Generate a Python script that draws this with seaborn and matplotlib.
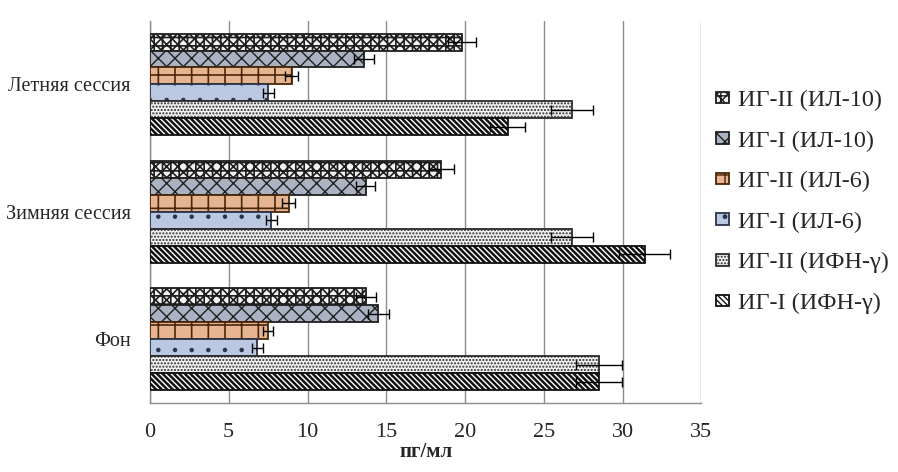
import seaborn as sns
import pandas as pd
import matplotlib.pyplot as plt
from matplotlib.ticker import MultipleLocator, FixedLocator

# categories top to bottom
sessions = ['Летняя сессия', 'Зимняя сессия', 'Фон']
groups = ['ИГ-II (ИЛ-10)', 'ИГ-I (ИЛ-10)', 'ИГ-II (ИЛ-6)',
          'ИГ-I (ИЛ-6)', 'ИГ-II (ИФН-γ)', 'ИГ-I (ИФН-γ)']

# values per group, in the order of sessions
il10_g2 = [19.8, 18.5, 13.7]
il10_g1 = [13.6, 13.7, 14.5]
il6_g2 = [9.0, 8.8, 7.5]
il6_g1 = [7.5, 7.7, 6.8]
ifn_g2 = [26.8, 26.8, 28.5]
ifn_g1 = [22.7, 31.4, 28.5]

il10_g2_err = [0.9, 0.8, 0.65]
il10_g1_err = [0.65, 0.6, 0.65]
il6_g2_err = [0.4, 0.4, 0.3]
il6_g1_err = [0.35, 0.35, 0.35]
ifn_g2_err = [1.35, 1.35, 1.45]
ifn_g1_err = [1.1, 1.6, 1.45]

values = [il10_g2, il10_g1, il6_g2, il6_g1, ifn_g2, ifn_g1]
errors = [il10_g2_err, il10_g1_err, il6_g2_err, il6_g1_err, ifn_g2_err, ifn_g1_err]

face = ['#f2f2f2', '#a7b1c6', '#f4b183', '#b4c7e7', '#f2f2f2', '#ffffff']
edge = ['#1f1f1f', '#1f1f1f', '#4a2608', '#2a3347', '#2b2b2b', '#111111']
hatches = ['xxx++', 'xx', '+', '.', '.....', '\\\\\\\\\\\\']
hatch_lw = [1.2, 1.0, 1.2, 0.8, 1.0, 1.8]

rows = []
for g, vals in zip(groups, values):
    for s, v in zip(sessions, vals):
        rows.append([s, g, v])
df = pd.DataFrame(rows, columns=['session', 'group', 'value'])

sns.set_style('white')
plt.rcParams['font.family'] = ['Liberation Serif', 'DejaVu Serif']
plt.rcParams['hatch.linewidth'] = 1.0

fig = plt.figure(figsize=(8.98, 4.72), dpi=100)
ax = fig.add_axes([0.167, 0.146, 0.614, 0.81])

sns.barplot(data=df, x='value', y='session', hue='group', order=sessions,
            hue_order=groups, palette=face, orient='h', width=0.8,
            errorbar=None, legend=False, ax=ax, zorder=3)

bar_sets = list(ax.containers)
for i, cont in enumerate(bar_sets):
    for bar in cont.patches:
        bar.set_hatch(hatches[i])
        bar.set_edgecolor(edge[i])
        bar.set_linewidth(1.3)
        if hasattr(bar, 'set_hatch_linewidth'):
            bar.set_hatch_linewidth(hatch_lw[i])
    xs = [b.get_width() for b in cont.patches]
    ys = [b.get_y() + b.get_height() / 2 for b in cont.patches]
    ax.errorbar(xs, ys, xerr=errors[i], fmt='none', ecolor='black',
                elinewidth=1, capsize=3.5, capthick=1, zorder=5)

ax.set_xlim(0, 35)
ax.set_ylim(2.5, -0.5)
ax.xaxis.set_major_locator(MultipleLocator(5))
ax.xaxis.set_minor_locator(MultipleLocator(2.5))
ax.grid(axis='x', color='#8c8c8c', linewidth=1, zorder=0)
ax.set_axisbelow(True)
ax.yaxis.set_minor_locator(FixedLocator([-0.5, 0.5, 1.5, 2.5]))

for side in ['top', 'right']:
    ax.spines[side].set_visible(False)
for side in ['left', 'bottom']:
    ax.spines[side].set_color('#8c8c8c')
    ax.spines[side].set_linewidth(1)

ax.tick_params(axis='x', which='major', direction='out', length=5,
               color='#8c8c8c', labelsize=16, pad=9)
ax.tick_params(axis='x', which='minor', direction='in', length=4,
               color='#8c8c8c')
ax.tick_params(axis='y', which='major', length=0, labelsize=14.5, pad=14)
ax.tick_params(axis='y', which='minor', direction='out', length=5,
               color='#8c8c8c')

ax.set_ylabel(None)
ax.set_xlabel('пг/мл', fontsize=15, fontweight='bold', labelpad=0)

fig.legend(handles=bar_sets, labels=groups, loc='center left',
           bbox_to_anchor=(0.797, 0.572), frameon=False, fontsize=17.5,
           handlelength=0.55, handleheight=0.35, handletextpad=0.35,
           labelspacing=0.8, borderaxespad=0, borderpad=0)

fig.savefig('out.png', dpi=100)
